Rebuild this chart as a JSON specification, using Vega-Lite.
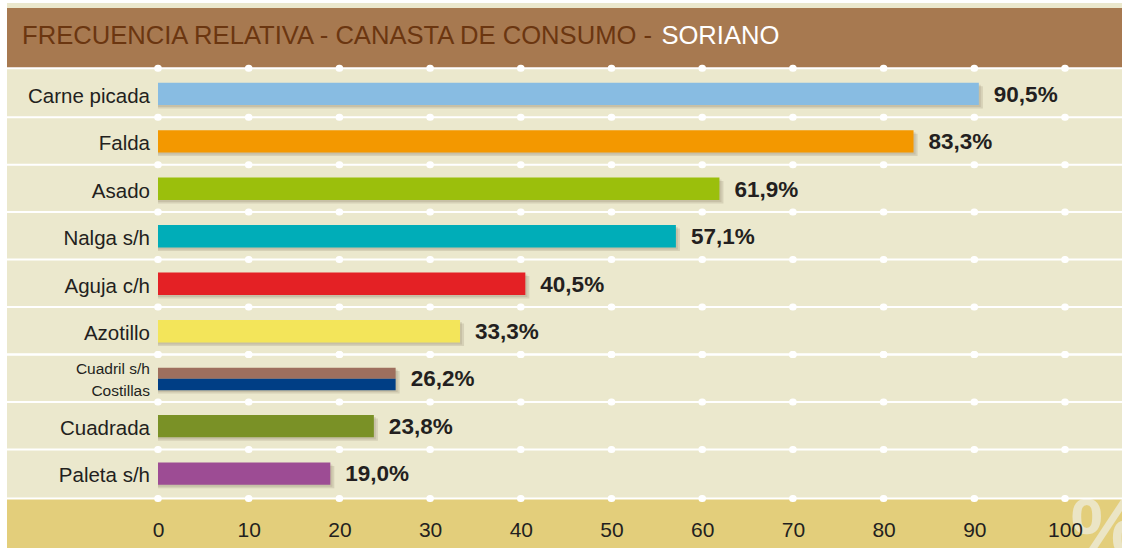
{
  "$schema": "https://vega.github.io/schema/vega-lite/v6.json",
  "width": 1115,
  "height": 545,
  "autosize": {"type": "none"},
  "padding": {"left": 7, "top": 3, "right": 0, "bottom": 0},
  "background": "#ffffff",
  "config": {
    "view": {"stroke": null, "fill": "#ebe8cd"},
    "locale": {"number": {"decimal": ",", "thousands": ".", "grouping": [3], "currency": ["", "%"]}}
  },
  "data": {
    "values": [
      {"corte": "Carne picada", "pct": 90.5, "orden": 1},
      {"corte": "Falda", "pct": 83.3, "orden": 2},
      {"corte": "Asado", "pct": 61.9, "orden": 3},
      {"corte": "Nalga s/h", "pct": 57.1, "orden": 4},
      {"corte": "Aguja c/h", "pct": 40.5, "orden": 5},
      {"corte": "Azotillo", "pct": 33.3, "orden": 6},
      {"corte": "Cuadril s/h", "pct": 26.2, "orden": 7},
      {"corte": "Costillas", "pct": 26.2, "orden": 7},
      {"corte": "Cuadrada", "pct": 23.8, "orden": 8},
      {"corte": "Paleta s/h", "pct": 19.0, "orden": 9}
    ]
  },
  "layer": [
    {
      "data": {"values": [{}]},
      "mark": {"type": "rect", "color": "#a77950"},
      "encoding": {
        "x": {"datum": -16.648, "type": "quantitative", "title": null},
        "x2": {"datum": 106.284},
        "y": {"datum": -0.8097, "type": "quantitative", "title": null},
        "y2": {"datum": 0.458}
      }
    },
    {
      "data": {"values": [{}]},
      "mark": {"type": "rect", "color": "#e3ce7b"},
      "encoding": {
        "x": {"datum": -16.648, "type": "quantitative", "title": null},
        "x2": {"datum": 106.284},
        "y": {"datum": 9.525, "type": "quantitative", "title": null},
        "y2": {"datum": 10.9}
      }
    },
    {
      "data": {"values": [{}]},
      "mark": {"type": "text", "text": "%", "font": "Liberation Sans", "fontWeight": "bold", "fontSize": 82, "align": "left", "baseline": "alphabetic", "color": "#ebe5c5"},
      "encoding": {
        "x": {"datum": 100.6, "type": "quantitative", "title": null},
        "y": {"datum": 10.72, "type": "quantitative", "title": null}
      }
    },
    {
      "transform": [{"filter": "datum.orden >= 2"}],
      "mark": {"type": "rule", "color": "#ffffff", "strokeWidth": 2, "yOffset": -24.175},
      "encoding": {"y": {"field": "orden", "type": "quantitative", "title": null}}
    },
    {
      "data": {"values": [{}]},
      "mark": {"type": "rule", "color": "#ffffff", "strokeWidth": 2},
      "encoding": {"y": {"datum": 0.458, "type": "quantitative", "title": null}}
    },
    {
      "data": {"values": [{}]},
      "mark": {"type": "rule", "color": "#ffffff", "strokeWidth": 2},
      "encoding": {"y": {"datum": 9.525, "type": "quantitative", "title": null}}
    },
    {
      "transform": [{"filter": "datum.orden >= 2"}],
      "mark": {"type": "rule", "color": "#ffffff", "strokeWidth": 7, "strokeCap": "round", "strokeDash": [0.6, 90.1], "yOffset": -24.175},
      "encoding": {
        "x": {"datum": -0.033, "type": "quantitative", "title": null},
        "x2": {"datum": 100.5},
        "y": {"field": "orden", "type": "quantitative", "title": null}
      }
    },
    {
      "data": {"values": [{}]},
      "mark": {"type": "rule", "color": "#ffffff", "strokeWidth": 7, "strokeCap": "round", "strokeDash": [0.6, 90.1]},
      "encoding": {
        "x": {"datum": -0.033, "type": "quantitative", "title": null},
        "x2": {"datum": 100.5},
        "y": {"datum": 0.458, "type": "quantitative", "title": null}
      }
    },
    {
      "data": {"values": [{}]},
      "mark": {"type": "rule", "color": "#ffffff", "strokeWidth": 7, "strokeCap": "round", "strokeDash": [0.6, 90.1]},
      "encoding": {
        "x": {"datum": -0.033, "type": "quantitative", "title": null},
        "x2": {"datum": 100.5},
        "y": {"datum": 9.525, "type": "quantitative", "title": null}
      }
    },
    {
      "transform": [{"filter": "datum.corte != 'Costillas'"}],
      "mark": {"type": "bar", "orient": "horizontal", "size": 22.4, "color": "#5a4a30", "opacity": 0.14, "xOffset": 4, "x2Offset": 4, "yOffset": 3.5},
      "encoding": {
        "x": {"field": "pct", "type": "quantitative", "stack": null, "title": null},
        "y": {"field": "orden", "type": "quantitative", "title": null}
      }
    },
    {
      "transform": [{"filter": "datum.corte != 'Costillas'"}],
      "mark": {"type": "bar", "orient": "horizontal", "size": 22.4, "color": "#5a4a30", "opacity": 0.12, "xOffset": 2, "x2Offset": 2, "yOffset": 2},
      "encoding": {
        "x": {"field": "pct", "type": "quantitative", "stack": null, "title": null},
        "y": {"field": "orden", "type": "quantitative", "title": null}
      }
    },
    {
      "transform": [{"filter": "datum.corte != 'Costillas' && datum.corte != 'Cuadril s/h'"}],
      "mark": {"type": "bar", "orient": "horizontal", "size": 22.4},
      "encoding": {
        "x": {
          "field": "pct", "type": "quantitative", "stack": null, "title": null,
          "scale": {"domain": [-16.648, 106.284], "nice": false, "zero": false},
          "axis": {
            "values": [0, 10, 20, 30, 40, 50, 60, 70, 80, 90, 100],
            "orient": "bottom", "offset": -12, "domain": false, "ticks": false, "grid": false,
            "labelPadding": 0, "labelBaseline": "alphabetic", "labelFontSize": 21,
            "labelFont": "Liberation Sans", "labelColor": "#231f20", "title": null,
            "zindex": 2, "labelFlush": false, "labelOverlap": false
          }
        },
        "y": {
          "field": "orden", "type": "quantitative", "title": null,
          "scale": {"domain": [-0.8097, 10.462], "reverse": true, "nice": false, "zero": false},
          "axis": null
        },
        "color": {
          "field": "corte", "type": "nominal", "legend": null,
          "scale": {
            "domain": ["Carne picada", "Falda", "Asado", "Nalga s/h", "Aguja c/h", "Azotillo", "Cuadril s/h", "Costillas", "Cuadrada", "Paleta s/h"],
            "range": ["#88bce2", "#f39800", "#9bbf0c", "#00adb8", "#e42125", "#f3e55a", "#9e6f5e", "#003e85", "#7a9126", "#9d4c94"]
          }
        }
      }
    },
    {
      "transform": [{"filter": "datum.corte == 'Cuadril s/h'"}],
      "mark": {"type": "bar", "orient": "horizontal", "size": 11, "yOffset": -5.5},
      "encoding": {
        "x": {"field": "pct", "type": "quantitative", "stack": null, "title": null},
        "y": {"field": "orden", "type": "quantitative", "title": null},
        "color": {"field": "corte", "type": "nominal", "legend": null}
      }
    },
    {
      "transform": [{"filter": "datum.corte == 'Costillas'"}],
      "mark": {"type": "bar", "orient": "horizontal", "size": 11.5, "yOffset": 5.75},
      "encoding": {
        "x": {"field": "pct", "type": "quantitative", "stack": null, "title": null},
        "y": {"field": "orden", "type": "quantitative", "title": null},
        "color": {"field": "corte", "type": "nominal", "legend": null}
      }
    },
    {
      "transform": [{"filter": "datum.corte != 'Costillas' && datum.corte != 'Cuadril s/h'"}],
      "mark": {"type": "text", "align": "right", "baseline": "alphabetic", "dy": 8.8, "fontSize": 20.5, "font": "Liberation Sans", "color": "#231f20"},
      "encoding": {
        "x": {"datum": -0.882, "type": "quantitative", "title": null},
        "y": {"field": "orden", "type": "quantitative", "title": null},
        "text": {"field": "corte", "type": "nominal"}
      }
    },
    {
      "transform": [{"filter": "datum.corte == 'Cuadril s/h'"}],
      "mark": {"type": "text", "align": "right", "baseline": "alphabetic", "dy": -4.6, "fontSize": 15.5, "font": "Liberation Sans", "color": "#231f20"},
      "encoding": {
        "x": {"datum": -0.882, "type": "quantitative", "title": null},
        "y": {"field": "orden", "type": "quantitative", "title": null},
        "text": {"field": "corte", "type": "nominal"}
      }
    },
    {
      "transform": [{"filter": "datum.corte == 'Costillas'"}],
      "mark": {"type": "text", "align": "right", "baseline": "alphabetic", "dy": 17.2, "fontSize": 15.5, "font": "Liberation Sans", "color": "#231f20"},
      "encoding": {
        "x": {"datum": -0.882, "type": "quantitative", "title": null},
        "y": {"field": "orden", "type": "quantitative", "title": null},
        "text": {"field": "corte", "type": "nominal"}
      }
    },
    {
      "transform": [{"filter": "datum.corte != 'Costillas'"}],
      "mark": {"type": "text", "align": "left", "baseline": "alphabetic", "dx": 15, "dy": 7.8, "fontSize": 22.5, "fontWeight": "bold", "font": "Liberation Sans", "color": "#231f20"},
      "encoding": {
        "x": {"field": "pct", "type": "quantitative", "title": null},
        "y": {"field": "orden", "type": "quantitative", "title": null},
        "text": {"field": "pct", "type": "quantitative", "format": "$.1f", "formatType": "number"}
      }
    },
    {
      "data": {"values": [{}]},
      "mark": {"type": "text", "text": "FRECUENCIA RELATIVA - CANASTA DE CONSUMO -", "align": "left", "baseline": "alphabetic", "fontSize": 25.6, "font": "Liberation Sans", "color": "#6b3610"},
      "encoding": {
        "x": {"datum": -14.99, "type": "quantitative", "title": null},
        "y": {"datum": -0.0589, "type": "quantitative", "title": null}
      }
    },
    {
      "data": {"values": [{}]},
      "mark": {"type": "text", "text": "SORIANO", "align": "left", "baseline": "alphabetic", "fontSize": 25.6, "font": "Liberation Sans", "color": "#ffffff"},
      "encoding": {
        "x": {"datum": 55.5, "type": "quantitative", "title": null},
        "y": {"datum": -0.0589, "type": "quantitative", "title": null}
      }
    }
  ]
}
